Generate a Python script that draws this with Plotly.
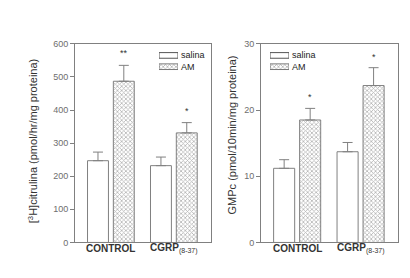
import plotly.graph_objects as go

categories = ["CONTROL", "CGRP"]
tick_labels = ["<b>CONTROL</b>", "<b>CGRP</b><sub>(8-37)</sub>"]
series_names = ["salina", "AM"]

cit_salina = [247, 232]
cit_salina_err = [26, 26]
cit_am = [487, 331]
cit_am_err = [48, 31]
cit_stars = ["**", "*"]

gmp_salina = [11.2, 13.7]
gmp_salina_err = [1.3, 1.4]
gmp_am = [18.5, 23.7]
gmp_am_err = [1.75, 2.7]
gmp_stars = ["*", "*"]

FONT = "Arial, Liberation Sans, sans-serif"
LINE = "#808080"
PATTERN = dict(shape="x", size=3, solidity=0.45, fgcolor="#666666", bgcolor="white")

fig = go.Figure()


def add_panel(xa, ya, sal, sal_e, am, am_e):
    fig.add_trace(go.Bar(
        x=categories, y=sal, name=series_names[0], xaxis=xa, yaxis=ya, showlegend=False,
        marker=dict(color="white", line=dict(color=LINE, width=1)),
        error_y=dict(type="data", array=sal_e, arrayminus=[0] * len(sal_e), symmetric=False,
                     color=LINE, thickness=1, width=5),
    ))
    fig.add_trace(go.Bar(
        x=categories, y=am, name=series_names[1], xaxis=xa, yaxis=ya, showlegend=False,
        marker=dict(color="white", line=dict(color=LINE, width=1), pattern=PATTERN),
        error_y=dict(type="data", array=am_e, arrayminus=[0] * len(am_e), symmetric=False,
                     color=LINE, thickness=1, width=5),
    ))


add_panel("x", "y", cit_salina, cit_salina_err, cit_am, cit_am_err)
add_panel("x2", "y2", gmp_salina, gmp_salina_err, gmp_am, gmp_am_err)

H = 278
W = 410
ydom = [1 - 238 / H, 1 - 32 / H]

# legend rows (pixel centres) and legend keys drawn as small bars on hidden overlay axes
ROW1, ROW2 = 44.0, 55.7
leg_ydom = [1 - (ROW2 + (ROW2 - ROW1) / 2) / H, 1 - (ROW1 - (ROW2 - ROW1) / 2) / H]


def add_legend(xa, ya):
    fig.add_trace(go.Bar(orientation="h", x=[1], y=[1.5], base=0, width=[0.5],
                         xaxis=xa, yaxis=ya, showlegend=False, hoverinfo="skip",
                         marker=dict(color="white", line=dict(color="#555555", width=1))))
    fig.add_trace(go.Bar(orientation="h", x=[1], y=[0.5], base=0, width=[0.5],
                         xaxis=xa, yaxis=ya, showlegend=False, hoverinfo="skip",
                         marker=dict(color="white", line=dict(color="#777777", width=1),
                                     pattern=PATTERN)))


add_legend("x3", "y3")
add_legend("x4", "y4")

xcommon = dict(type="category", range=[-0.57, 1.59], showline=True, mirror=True,
               linecolor=LINE, linewidth=1, ticks="", showticklabels=False,
               showgrid=False, zeroline=False, fixedrange=True)
ycommon = dict(showline=True, mirror=True, linecolor=LINE, linewidth=1, ticks="outside",
               ticklen=4, tickcolor=LINE, tickfont=dict(family=FONT, size=9, color="#6e6e6e"),
               showgrid=False, zeroline=False, domain=ydom)
hidden = dict(visible=False, fixedrange=True, showgrid=False, zeroline=False)

fig.update_layout(
    width=W, height=H, margin=dict(l=0, r=0, t=0, b=0),
    paper_bgcolor="white", plot_bgcolor="white",
    barmode="group", bargap=0.18, bargroupgap=0.19,
    showlegend=False,
    xaxis=dict(domain=[67 / W, 203 / W], anchor="y", **xcommon),
    yaxis=dict(range=[0, 600], tickvals=[0, 100, 200, 300, 400, 500, 600], anchor="x", **ycommon),
    xaxis2=dict(domain=[253 / W, 390 / W], anchor="y2", **xcommon),
    yaxis2=dict(range=[0, 30], tickvals=[0, 10, 20, 30], anchor="x2", **ycommon),
    xaxis3=dict(domain=[151 / W, 170 / W], range=[0, 1], anchor="y3", **hidden),
    yaxis3=dict(domain=leg_ydom, range=[0, 2], anchor="x3", **hidden),
    xaxis4=dict(domain=[262 / W, 281 / W], range=[0, 1], anchor="y4", **hidden),
    yaxis4=dict(domain=leg_ydom, range=[0, 2], anchor="x4", **hidden),
)

# legend texts (one two-line annotation per panel)
for lx in (172, 283):
    fig.add_annotation(x=lx / W, y=1 - (ROW1 + ROW2) / 2 / H, xref="paper", yref="paper",
                       text="<br>".join(series_names), align="left",
                       xanchor="left", yanchor="middle", showarrow=False, borderpad=0,
                       font=dict(family=FONT, size=9, color="#222222"))

# category labels
for xr in ("x", "x2"):
    for c, t in zip(categories, tick_labels):
        fig.add_annotation(x=c, y=1 - 244 / H, xref=xr, yref="paper", text=t,
                           xanchor="center", yanchor="middle", showarrow=False,
                           font=dict(family=FONT, size=10, color="#333333"))

# significance stars
for i, c in enumerate(categories):
    fig.add_annotation(x=c, y=cit_am[i] + cit_am_err[i], xref="x", yref="y", text=cit_stars[i],
                       showarrow=False, yshift=12, xshift=13, yanchor="middle",
                       font=dict(family=FONT, size=9, color="#333333"))
    fig.add_annotation(x=c, y=gmp_am[i] + gmp_am_err[i], xref="x2", yref="y2", text=gmp_stars[i],
                       showarrow=False, yshift=11, xshift=13, yanchor="middle",
                       font=dict(family=FONT, size=9, color="#333333"))

# y-axis titles
fig.add_annotation(x=25 / W, y=1 - 133 / H, xref="paper", yref="paper",
                   text="[<sup>3</sup>H]citrulina (pmol/hr/mg proteina)", textangle=-90,
                   xanchor="center", yanchor="middle",
                   showarrow=False, font=dict(family=FONT, size=11, color="#333333"))
fig.add_annotation(x=224 / W, y=1 - 127 / H, xref="paper", yref="paper",
                   text="GMPc (pmol/10min/mg proteina)", textangle=-90,
                   xanchor="center", yanchor="middle",
                   showarrow=False, font=dict(family=FONT, size=11, color="#333333"))

fig.write_html("out.html")
